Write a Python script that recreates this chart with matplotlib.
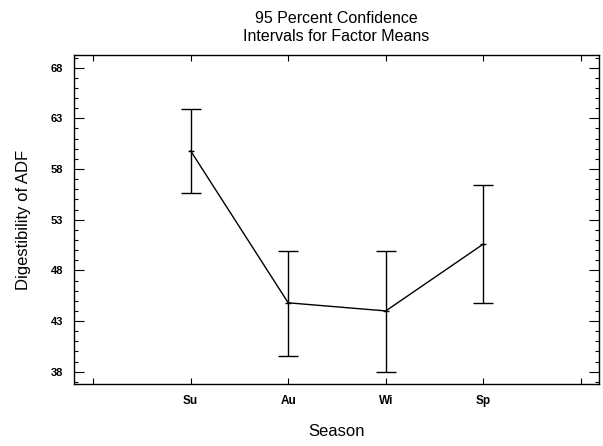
import matplotlib
matplotlib.use("Agg")
import matplotlib.pyplot as plt
import numpy as np

seasons = ["Su", "Au", "Wi", "Sp"]
means = [59.8, 44.8, 44.0, 50.6]
lower = [55.65, 39.6, 38.0, 44.8]
upper = [63.9, 49.9, 49.9, 56.4]
yticks = [38, 43, 48, 53, 58, 63, 68]

plt.rcParams['font.family'] = ['Liberation Sans', 'DejaVu Sans']

fig = plt.figure(figsize=(6.03, 4.46), dpi=100)
ax = fig.add_axes([74/603, 1-384.3/446, (599-74)/603, (384.3-54.7)/446])

x = np.arange(1, len(seasons)+1)
m = np.array(means)
yerr = np.vstack([m - np.array(lower), np.array(upper) - m])
ax.errorbar(x, m, yerr=yerr, color='black', lw=1.0, elinewidth=1.0,
            capsize=7, capthick=1.0, marker='_', ms=4)

ax.set_xlim(-0.195, 5.185)
ax.set_ylim(36.76, 69.28)

ax.set_xticks(np.arange(0, 6))
ax.set_xticklabels([""] + seasons + [""], fontsize=8.5, fontweight='bold')
ax.set_yticks(yticks)
ax.set_yticklabels([str(v) for v in yticks], fontsize=8, fontweight='bold')
ax.set_yticks(np.arange(37, 70, 1), minor=True)

ax.tick_params(axis='x', which='major', direction='in', length=4, width=0.8,
               top=True, bottom=True, pad=8)
ax.tick_params(axis='y', which='major', direction='in', length=7, width=0.8,
               left=True, right=True, pad=8)
ax.tick_params(axis='y', which='minor', direction='in', length=3, width=0.8,
               left=True, right=True)
for s in ax.spines.values():
    s.set_linewidth(1.0)

ax.set_xlabel("Season", fontsize=12, labelpad=12)
ax.set_ylabel("Digestibility of ADF", fontsize=12, labelpad=14)
ax.set_title("95 Percent Confidence\nIntervals for Factor Means", fontsize=11.5,
             pad=10, linespacing=1.25)

fig.savefig("out.png", dpi=100)
